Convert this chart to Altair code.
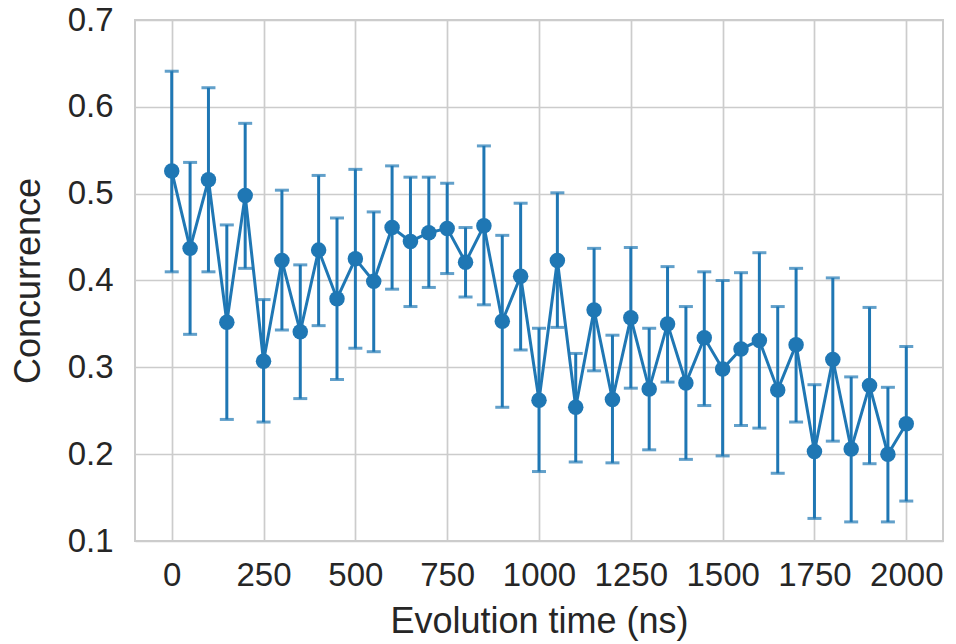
import altair as alt
import pandas as pd

times = list(range(0, 2001, 50))
concurrence = [0.526, 0.437, 0.516, 0.352, 0.498, 0.307, 0.423, 0.341, 0.435, 0.379,
               0.425, 0.399, 0.461, 0.445, 0.455, 0.460, 0.421, 0.463, 0.353, 0.405,
               0.262, 0.423, 0.254, 0.366, 0.263, 0.357, 0.275, 0.350, 0.282, 0.334,
               0.298, 0.321, 0.331, 0.274, 0.326, 0.203, 0.309, 0.206, 0.279, 0.200,
               0.235]
upper = [0.641, 0.536, 0.622, 0.464, 0.581, 0.378, 0.504, 0.418, 0.521, 0.472,
         0.528, 0.479, 0.532, 0.519, 0.519, 0.512, 0.461, 0.555, 0.452, 0.489,
         0.345, 0.501, 0.316, 0.437, 0.337, 0.438, 0.345, 0.416, 0.370, 0.410,
         0.400, 0.409, 0.432, 0.370, 0.414, 0.280, 0.403, 0.289, 0.369, 0.277,
         0.324]
lower = [0.410, 0.338, 0.410, 0.240, 0.414, 0.237, 0.343, 0.264, 0.348, 0.286,
         0.322, 0.318, 0.390, 0.370, 0.392, 0.408, 0.381, 0.372, 0.254, 0.320,
         0.180, 0.346, 0.191, 0.296, 0.190, 0.276, 0.205, 0.283, 0.194, 0.256,
         0.198, 0.233, 0.230, 0.178, 0.237, 0.126, 0.215, 0.122, 0.189, 0.122,
         0.146]
x_ticks = [0, 250, 500, 750, 1000, 1250, 1500, 1750, 2000]
y_ticks = [0.1, 0.2, 0.3, 0.4, 0.5, 0.6, 0.7]

df = pd.DataFrame({"t": times, "c": concurrence, "hi": upper, "lo": lower})

color = "#1f77b4"
font = "Liberation Sans"

xs = alt.Scale(domain=[-100, 2100], nice=False, zero=False)
ys = alt.Scale(domain=[0.1, 0.7], nice=False, zero=False)

x_axis = alt.Axis(values=x_ticks, format="d", title="Evolution time (ns)", grid=True,
                  ticks=False, tickSize=0, domain=False, labelPadding=18,
                  titlePadding=12)
y_axis = alt.Axis(values=y_ticks, format=".1f", title="Concurrence", grid=True,
                  ticks=False, tickSize=0, domain=False, labelPadding=22,
                  titlePadding=20)

base = alt.Chart(df)

rules = base.mark_rule(color=color, strokeWidth=3).encode(
    x=alt.X("t:Q", scale=xs, axis=x_axis),
    y=alt.Y("lo:Q", scale=ys, axis=y_axis),
    y2="hi:Q",
)
cap_hi = base.mark_tick(color=color, orient="horizontal", size=14, thickness=3).encode(
    x=alt.X("t:Q", scale=xs), y=alt.Y("hi:Q", scale=ys)
)
cap_lo = base.mark_tick(color=color, orient="horizontal", size=14, thickness=3).encode(
    x=alt.X("t:Q", scale=xs), y=alt.Y("lo:Q", scale=ys)
)
line = base.mark_line(color=color, strokeWidth=3).encode(
    x=alt.X("t:Q", scale=xs), y=alt.Y("c:Q", scale=ys)
)
points = base.mark_circle(color=color, size=240, opacity=1).encode(
    x=alt.X("t:Q", scale=xs), y=alt.Y("c:Q", scale=ys)
)

chart = alt.layer(rules, cap_hi, cap_lo, line, points).properties(
    width=808, height=521,
    autosize=alt.AutoSizeParams(type="none"),
    padding={"left": 135, "top": 20, "right": 13, "bottom": 103},
    background="white",
).configure_view(
    stroke="#cccccc", strokeWidth=2
).configure_axis(
    gridColor="#cccccc", gridWidth=1.7,
    labelFont=font, labelFontSize=33, labelColor="#262626",
    titleFont=font, titleFontSize=36, titleColor="#262626", titleFontWeight="normal",
)

chart.save("out.html", embed_options={"renderer": "svg", "actions": False})
